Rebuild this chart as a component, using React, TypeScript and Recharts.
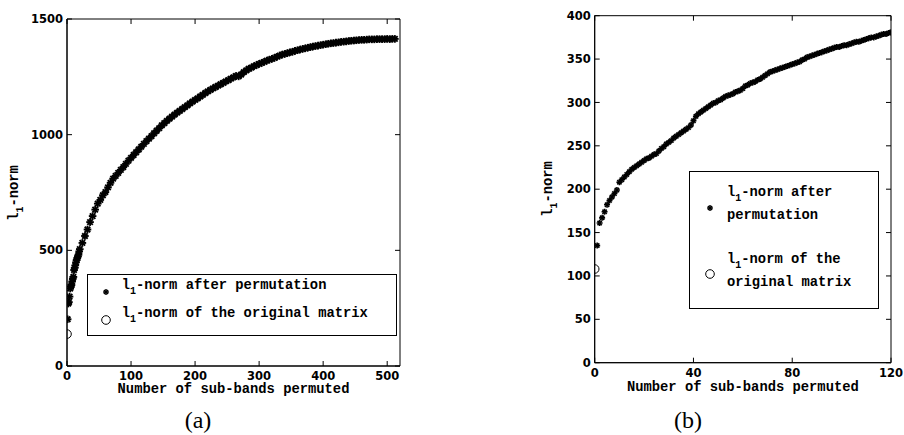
import React from 'react'
import { ScatterChart, Scatter, XAxis, YAxis, Legend, ReferenceArea } from 'recharts'

// ---- panel (a): 512 sub-bands ----
const bandsA = [
  1, 2, 3, 4, 5, 6, 7, 8, 9, 10, 11, 12, 13, 14, 15, 16, 17, 18, 19, 20,
  24, 28, 32, 36, 40, 44, 48, 52, 56, 60, 64, 68, 72, 76, 80, 84, 88, 92, 96, 100,
  104, 108, 112, 116, 120, 124, 128, 132, 136, 140, 144, 148, 152, 156, 160, 164, 168, 172, 176, 180,
  184, 188, 192, 196, 200, 204, 208, 212, 216, 220, 224, 228, 232, 236, 240, 244, 248, 252, 256, 260,
  264, 268, 272, 276, 280, 284, 288, 292, 296, 300, 304, 308, 312, 316, 320, 324, 328, 332, 336, 340,
  344, 348, 352, 356, 360, 364, 368, 372, 376, 380, 384, 388, 392, 396, 400, 404, 408, 412, 416, 420,
  424, 428, 432, 436, 440, 444, 448, 452, 456, 460, 464, 468, 472, 476, 480, 484, 488, 492, 496, 500,
  504, 508, 512,
]
const normA = [
  202, 270, 276, 300, 335, 343, 350, 365, 378, 385, 415, 424, 435, 448, 458, 466, 474, 481, 495, 505,
  532, 562, 590, 622, 648, 676, 702, 718, 738, 752, 772, 792, 810, 822, 835, 848, 860, 874, 888, 900,
  912, 924, 936, 948, 960, 972, 983, 994, 1006, 1017, 1028, 1040, 1050, 1060, 1069, 1078, 1087, 1095, 1103, 1111,
  1119, 1127, 1135, 1143, 1150, 1157, 1165, 1172, 1180, 1187, 1194, 1200, 1206, 1212, 1218, 1224, 1230, 1236, 1242, 1248,
  1254, 1252, 1260, 1270, 1278, 1285, 1290, 1296, 1301, 1306, 1310, 1315, 1320, 1324, 1328, 1332, 1337, 1342, 1346, 1349,
  1352, 1356, 1358, 1362, 1365, 1368, 1371, 1373, 1376, 1378, 1381, 1383, 1385, 1387, 1389, 1391, 1393, 1395, 1396, 1398,
  1399, 1401, 1402, 1403, 1405, 1406, 1407, 1408, 1409, 1410, 1410, 1411, 1412, 1412, 1412, 1413, 1413, 1413, 1413, 1414,
  1413, 1414, 1414,
]
const originalA = 138
const xTicksA = [0, 100, 200, 300, 400, 500]
const yTicksA = [0, 500, 1000, 1500]

// ---- panel (b): first 120 sub-bands ----
const bandsB = Array.from({ length: 120 }, (_, i) => i + 1)
const normB = [
  135, 161, 167, 174, 182, 187, 191, 195, 199, 208, 211, 214, 217, 220, 223, 225, 227, 229, 231, 233,
  235, 236, 238, 240, 241, 244, 247, 249, 252, 254, 256, 259, 261, 263, 265, 267, 269, 271, 274, 279,
  284, 287, 289, 291, 293, 295, 297, 299, 300, 302, 303, 305, 307, 308, 309, 310, 312, 313, 314, 316,
  319, 320, 322, 323, 324, 326, 327, 329, 331, 333, 335, 336, 337, 338, 339, 340, 341, 342, 343, 344,
  345, 346, 347, 349, 350, 352, 353, 354, 355, 356, 357, 358, 359, 360, 361, 362, 363, 364, 364, 365,
  366, 366, 367, 368, 369, 370, 370, 371, 372, 373, 374, 375, 375, 376, 377, 378, 379, 379, 380, 381,
]
const originalB = 108
const xTicksB = [0, 40, 80, 120]
const yTicksB = [0, 50, 100, 150, 200, 250, 300, 350, 400]

const seriesNames = ['l_1-norm after permutation', 'l_1-norm of the original matrix']

const MONO = '"Liberation Mono", "DejaVu Sans Mono", monospace'
const TICK_FAMILY = '"DejaVu Sans", sans-serif'
const TICK_LEN = 5
const X_GAP = 6
const Y_GAP = 4

// MATLAB-style '*' marker
const Asterisk = (props: any) => {
  const { cx, cy, size = 2.9, weight = 1.2 } = props
  if (cx == null || cy == null) return null
  const d = size * 0.72
  return (
    <g stroke="#000" strokeWidth={weight}>
      <line x1={cx - size} y1={cy} x2={cx + size} y2={cy} />
      <line x1={cx} y1={cy - size} x2={cx} y2={cy + size} />
      <line x1={cx - d} y1={cy - d} x2={cx + d} y2={cy + d} />
      <line x1={cx - d} y1={cy + d} x2={cx + d} y2={cy - d} />
    </g>
  )
}

const OpenCircle = (props: any) => {
  const { cx, cy } = props
  if (cx == null || cy == null) return null
  return <circle cx={cx} cy={cy} r={4.3} fill="none" stroke="#000" strokeWidth={1} />
}

// bottom tick: label + inward tick marks on bottom and top edges
const XTick = (props: any) => {
  const { x, y, payload, plotTop } = props
  const axisY = y - X_GAP
  return (
    <g>
      <line x1={x} x2={x} y1={axisY} y2={axisY - TICK_LEN} stroke="#000" strokeWidth={1} />
      <line x1={x} x2={x} y1={plotTop} y2={plotTop + TICK_LEN} stroke="#000" strokeWidth={1} />
      <text
        x={x}
        y={y}
        dy="0.72em"
        textAnchor="middle"
        fontFamily={TICK_FAMILY}
        fontSize={11.5}
        fontWeight={700}
        fill="#000"
      >
        {payload.value}
      </text>
    </g>
  )
}

// left tick: label + inward tick marks on left and right edges
const YTick = (props: any) => {
  const { x, y, payload, plotRight } = props
  const axisX = x + Y_GAP
  return (
    <g>
      <line x1={axisX} x2={axisX + TICK_LEN} y1={y} y2={y} stroke="#000" strokeWidth={1} />
      <line x1={plotRight - TICK_LEN} x2={plotRight} y1={y} y2={y} stroke="#000" strokeWidth={1} />
      <text
        x={x}
        y={y}
        dy="0.36em"
        textAnchor="end"
        fontFamily={TICK_FAMILY}
        fontSize={11.5}
        fontWeight={700}
        fill="#000"
      >
        {payload.value}
      </text>
    </g>
  )
}

// text with "_1" rendered as subscript
const Subbed = ({ text }: { text: string }) => {
  const [a, b] = text.split('_1')
  return (
    <>
      {a}
      <span style={{ fontSize: 10, position: 'relative', top: 5, lineHeight: 0 }}>1</span>
      {b}
    </>
  )
}

interface LegendLayout {
  left: number
  top: number
  width: number
  height: number
  markerX: number
  markerY: number[]
  textX: number
  textTop: number[]
  textWidth: number
  lineHeight: number
}

const makeLegend = (cfg: LegendLayout) => (props: any) => {
  const payload = props.payload || []
  return (
    <div
      style={{
        position: 'relative',
        width: cfg.width,
        height: cfg.height,
        border: '1.5px solid #000',
        boxSizing: 'border-box',
        background: '#fff',
      }}
    >
      {payload.map((entry: any, i: number) => (
        <React.Fragment key={i}>
          <svg
            width={12}
            height={12}
            style={{ position: 'absolute', left: cfg.markerX - 6, top: cfg.markerY[i] - 6 }}
          >
            {entry.type === 'circle' ? (
              <OpenCircle cx={6} cy={6} />
            ) : (
              <Asterisk cx={6} cy={6} weight={1.5} />
            )}
          </svg>
          <div
            style={{
              position: 'absolute',
              left: cfg.textX,
              top: cfg.textTop[i],
              width: cfg.textWidth,
              fontFamily: MONO,
              fontWeight: 700,
              fontSize: 13.8,
              lineHeight: `${cfg.lineHeight}px`,
              color: '#000',
              textAlign: 'left',
            }}
          >
            <Subbed text={entry.value} />
          </div>
        </React.Fragment>
      ))}
    </div>
  )
}

interface PanelProps {
  left: number
  width: number
  plot: { x0: number; y0: number; x1: number; y1: number }
  bands: number[]
  norms: number[]
  original: number
  xDomain: [number, number]
  xTicks: number[]
  yDomain: [number, number]
  yTicks: number[]
  markerSize: number
  markerWeight: number
  legend: LegendLayout
  yLabelX: number
  xLabelY: number
  caption: string
  captionX: number
}

const H = 435

function Panel(p: PanelProps) {
  const permuted = p.bands.map((b, i) => ({ x: b, y: p.norms[i] }))
  const orig = [{ x: 0, y: p.original }]
  const margin = {
    top: p.plot.y0,
    left: p.plot.x0 - 60,
    right: p.width - p.plot.x1,
    bottom: H - p.plot.y1 - 30,
  }
  const plotCx = (p.plot.x0 + p.plot.x1) / 2
  const plotCy = (p.plot.y0 + p.plot.y1) / 2
  return (
    <div style={{ position: 'absolute', left: p.left, top: 0, width: p.width, height: H }}>
      <ScatterChart width={p.width} height={H} margin={margin}>
        <XAxis
          type="number"
          dataKey="x"
          domain={p.xDomain}
          ticks={p.xTicks}
          interval={0}
          height={30}
          axisLine={{ stroke: '#000' }}
          tickLine={false}
          tickSize={0}
          tickMargin={X_GAP}
          tick={<XTick plotTop={p.plot.y0} />}
          allowDataOverflow
        />
        <YAxis
          type="number"
          dataKey="y"
          domain={p.yDomain}
          ticks={p.yTicks}
          interval={0}
          width={60}
          axisLine={{ stroke: '#000' }}
          tickLine={false}
          tickSize={0}
          tickMargin={Y_GAP}
          tick={<YTick plotRight={p.plot.x1} />}
          allowDataOverflow
        />
        {/* axes box */}
        <ReferenceArea
          x1={p.xDomain[0]}
          x2={p.xDomain[1]}
          y1={p.yDomain[0]}
          y2={p.yDomain[1]}
          fill="none"
          stroke="#000"
          strokeWidth={1}
          ifOverflow="visible"
        />
        <Scatter
          name={seriesNames[0]}
          data={permuted}
          legendType="star"
          shape={<Asterisk size={p.markerSize} weight={p.markerWeight} />}
          isAnimationActive={false}
        />
        <Scatter
          name={seriesNames[1]}
          data={orig}
          legendType="circle"
          shape={<OpenCircle />}
          isAnimationActive={false}
        />
        <Legend
          layout="horizontal"
          verticalAlign="middle"
          align="center"
          content={makeLegend(p.legend)}
          wrapperStyle={{ left: p.legend.left, top: p.legend.top, width: p.legend.width }}
        />
      </ScatterChart>

      {/* y label */}
      <div
        style={{
          position: 'absolute',
          left: p.yLabelX,
          top: plotCy,
          transform: 'translate(-50%, -50%) rotate(-90deg)',
          fontFamily: MONO,
          fontWeight: 700,
          fontSize: 13.8,
          whiteSpace: 'nowrap',
          lineHeight: '16px',
        }}
      >
        <Subbed text="l_1-norm" />
      </div>

      {/* x label */}
      <div
        style={{
          position: 'absolute',
          left: plotCx,
          top: p.xLabelY,
          transform: 'translate(-50%, -50%)',
          fontFamily: MONO,
          fontWeight: 700,
          fontSize: 13.8,
          whiteSpace: 'nowrap',
          lineHeight: '16px',
        }}
      >
        Number of sub-bands permuted
      </div>

      {/* sub-figure caption */}
      <div
        style={{
          position: 'absolute',
          left: p.captionX,
          top: 420,
          transform: 'translate(-50%, -50%)',
          fontFamily: '"Liberation Serif", "DejaVu Serif", serif',
          fontSize: 24,
          whiteSpace: 'nowrap',
          lineHeight: '26px',
        }}
      >
        {p.caption}
      </div>
    </div>
  )
}

export default function App() {
  return (
    <div style={{ position: 'absolute', left: 0, top: 0, width: 904, height: H, background: '#fff' }}>
      <Panel
        left={0}
        width={450}
        plot={{ x0: 67, y0: 19, x1: 400, y1: 366 }}
        bands={bandsA}
        norms={normA}
        original={originalA}
        xDomain={[0, 520]}
        xTicks={xTicksA}
        yDomain={[0, 1500]}
        yTicks={yTicksA}
        markerSize={3.8}
        markerWeight={1.9}
        legend={{
          left: 86.7,
          top: 274,
          width: 310,
          height: 62,
          markerX: 18.3,
          markerY: [17, 45.3],
          textX: 34,
          textTop: [1, 29],
          textWidth: 270,
          lineHeight: 20,
        }}
        yLabelX={15}
        xLabelY={390}
        caption="(a)"
        captionX={198}
      />
      <Panel
        left={450}
        width={454}
        plot={{ x0: 144.7, y0: 15.7, x1: 441, y1: 362.7 }}
        bands={bandsB}
        norms={normB}
        original={originalB}
        xDomain={[0, 120]}
        xTicks={xTicksB}
        yDomain={[0, 400]}
        yTicks={yTicksB}
        markerSize={3}
        markerWeight={1.6}
        legend={{
          left: 239,
          top: 171,
          width: 190,
          height: 138,
          markerX: 20,
          markerY: [35.7, 101.7],
          textX: 37,
          textTop: [9, 75.6],
          textWidth: 150,
          lineHeight: 23.3,
        }}
        yLabelX={98.5}
        xLabelY={388}
        caption="(b)"
        captionX={238}
      />
    </div>
  )
}
